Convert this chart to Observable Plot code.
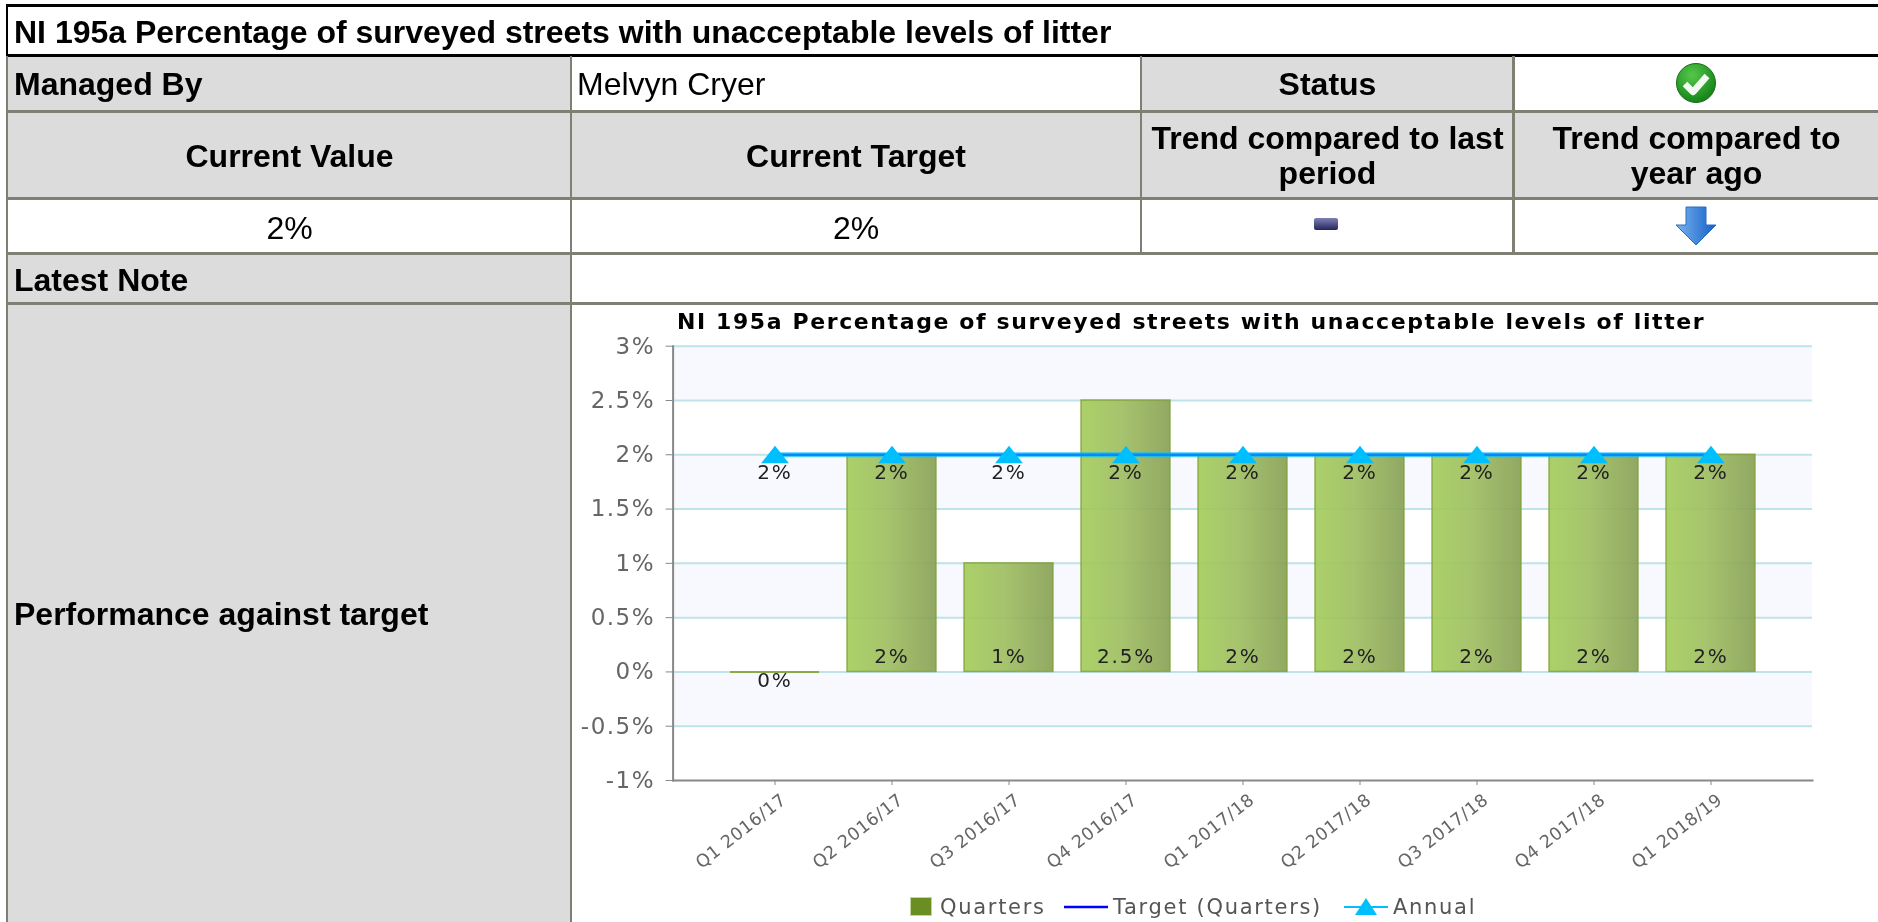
<!DOCTYPE html>
<html><head><meta charset="utf-8">
<script src="https://cdn.jsdelivr.net/npm/d3@7"></script>
<script src="https://cdn.jsdelivr.net/npm/@observablehq/plot@0.6"></script>
<style>
html,body{margin:0;padding:0;width:1878px;height:922px;overflow:hidden;background:#fff;font-family:"Liberation Sans",Arial,sans-serif;color:#000}
#page{position:absolute;inset:0;filter:blur(0.45px)}
.c{position:absolute;box-sizing:border-box;font-size:32px;display:flex;align-items:center;line-height:35px;padding-top:2px}
.g{background:#dcdcdc;font-weight:bold}
.ctr{justify-content:center;text-align:center}
.l{padding-left:6px}
.h{position:absolute;background:#7f7f73}
.k{position:absolute;background:#000}
#chart{position:absolute;left:572px;top:305px}
.ct{position:absolute;left:572px;top:309px;width:1240px;font:bold 22px "DejaVu Sans",sans-serif;letter-spacing:1.6px;white-space:nowrap}
.lg{position:absolute;font:21px "DejaVu Sans",sans-serif;letter-spacing:1.7px;color:#555;top:896px;white-space:nowrap;line-height:22px}
svg.ic{position:absolute}
g[aria-label="y-axis tick label"] text{letter-spacing:1.5px}
g[aria-label="x-axis tick label"] text{letter-spacing:0.6px}
.lbl text{letter-spacing:1.8px}
</style></head><body><div id="page">
<div class="c g l" style="left:8px;top:56px;width:563px;height:55px">Managed By</div>
<div class="c" style="left:572px;top:56px;width:568px;height:55px;padding-left:5px">Melvyn Cryer</div>
<div class="c g ctr" style="left:1142px;top:56px;width:371px;height:55px">Status</div>
<div class="c g ctr" style="left:8px;top:112px;width:563px;height:86px">Current Value</div>
<div class="c g ctr" style="left:572px;top:112px;width:568px;height:86px">Current Target</div>
<div class="c g ctr" style="left:1142px;top:112px;width:371px;height:86px">Trend compared to last period</div>
<div class="c g ctr" style="left:1515px;top:112px;width:363px;height:86px"><span style="width:340px">Trend compared to year ago</span></div>
<div class="c ctr" style="left:8px;top:201px;width:563px;height:52px">2%</div>
<div class="c ctr" style="left:572px;top:201px;width:568px;height:52px">2%</div>
<div class="c g l" style="left:8px;top:255px;width:563px;height:48px">Latest Note</div>
<div class="c g l" style="left:8px;top:305px;width:563px;height:617px">Performance against target</div>
<div class="c l" style="left:8px;top:8px;width:1870px;height:47px;font-weight:bold">NI 195a Percentage of surveyed streets with unacceptable levels of litter</div>

<div class="k" style="left:6px;top:4px;width:1872px;height:3px"></div>
<div class="k" style="left:6px;top:54px;width:1872px;height:3px"></div>
<div class="k" style="left:6px;top:4px;width:2px;height:52px"></div>
<div class="h" style="left:6px;top:56px;width:2px;height:866px"></div>
<div class="h" style="left:6px;top:110px;width:1872px;height:3px"></div>
<div class="h" style="left:6px;top:197px;width:1872px;height:3px"></div>
<div class="h" style="left:6px;top:252px;width:1872px;height:3px"></div>
<div class="h" style="left:6px;top:302px;width:1872px;height:3px"></div>
<div class="h" style="left:570px;top:56px;width:2px;height:866px"></div>
<div class="h" style="left:1140px;top:56px;width:2px;height:197px"></div>
<div class="h" style="left:1512px;top:56px;width:3px;height:197px"></div>

<svg class="ic" style="left:1675px;top:62px" width="42" height="42" viewBox="0 0 42 42">
<defs><radialGradient id="gc" cx=".4" cy=".3" r=".8"><stop offset="0" stop-color="#55c84a"/><stop offset="1" stop-color="#0c7a12"/></radialGradient></defs>
<circle cx="21" cy="21" r="19.5" fill="url(#gc)" stroke="#1a6b1a" stroke-width="1"/>
<path d="M10 22l8 8 14-16" fill="none" stroke="#f4f8f2" stroke-width="6.5" stroke-linejoin="round"/></svg>
<svg class="ic" style="left:1314px;top:218px" width="24" height="12"><defs><linearGradient id="gd" x1="0" x2="0" y1="0" y2="1"><stop offset="0" stop-color="#8080b8"/><stop offset="1" stop-color="#26265e"/></linearGradient></defs><rect width="24" height="12" rx="2" fill="url(#gd)"/></svg>
<svg class="ic" style="left:1675px;top:206px" width="42" height="40" viewBox="0 0 42 40"><defs><linearGradient id="ga" x1="0" x2="1"><stop offset="0" stop-color="#78b4f0"/><stop offset="1" stop-color="#1560c8"/></linearGradient></defs><path d="M11 1h20v18h10L21 39 1 19h10z" fill="url(#ga)" stroke="#2a6cc0" stroke-width="1"/></svg>

<div class="ct" id="ct"><span style="position:absolute;left:105px">NI 195a Percentage of surveyed streets with unacceptable levels of litter</span></div>
<div id="chart"></div>

<svg class="ic" style="left:910px;top:897px" width="22" height="19"><rect x=".5" y=".5" width="21" height="18" fill="#6b8e23" stroke="#c2d69a"/></svg>
<div class="lg" style="left:940px">Quarters</div>
<svg class="ic" style="left:1064px;top:905px" width="44" height="4"><line x1="0" x2="44" y1="2" y2="2" stroke="#0000ff" stroke-width="2.5"/></svg>
<div class="lg" style="left:1113px">Target (Quarters)</div>
<svg class="ic" style="left:1344px;top:897px" width="44" height="20"><line x1="0" x2="44" y1="10" y2="10" stroke="#00bfff" stroke-width="2"/><path d="M22 1L33 18H11z" fill="#00bfff"/></svg>
<div class="lg" style="left:1393px">Annual</div>
</div>
<script>
const periods = ["Q1 2016/17","Q2 2016/17","Q3 2016/17","Q4 2016/17","Q1 2017/18","Q2 2017/18","Q3 2017/18","Q4 2017/18","Q1 2018/19"];
const quarters = [0,2,1,2.5,2,2,2,2,2];
const target = [2,2,2,2,2,2,2,2,2];
const annual = [2,2,2,2,2,2,2,2,2];
const yTicks = [-1,-0.5,0,0.5,1,1.5,2,2.5,3];
const gridTicks = [-0.5,0,0.5,1,1.5,2,2.5,3];
const bandLow = [2.5,1.5,0.5,-0.5];
const bandHigh = [3,2,1,0];

const rows = periods.map((p,i)=>({p,q:quarters[i],t:target[i],a:annual[i]}));
const bands = bandLow.map((v,i)=>({lo:v,hi:bandHigh[i]}));
const flatTriangle = {draw(ctx,size){const u=Math.sqrt(size);ctx.moveTo(0,-u*0.9);ctx.lineTo(u*1.4,u*0.85);ctx.lineTo(-u*1.4,u*0.85);ctx.closePath();}};
const defs = () => {
  const s = d3.create("svg:defs");
  const g = s.append("linearGradient").attr("id","barGrad").attr("x1",0).attr("x2",1).attr("y1",0).attr("y2",0);
  g.append("stop").attr("offset","0").attr("stop-color","#a3cc58");
  g.append("stop").attr("offset","0.45").attr("stop-color","#9dbd5e");
  g.append("stop").attr("offset","1").attr("stop-color","#869f52");
  return s.node();
};
const font = "DejaVu Sans";
const plot = Plot.plot({
  width:1306, height:617,
  marginLeft:100.6, marginRight:66, marginTop:40.7, marginBottom:142,
  style:{background:"transparent",fontFamily:font,overflow:"visible"},
  x:{domain:periods,type:"band",range:[144,1198],paddingInner:0.237,paddingOuter:0.1185,label:null},
  y:{domain:[-1,3],label:null},
  marks:[
    defs,
    Plot.rect(bands,{y1:"lo",y2:"hi",fill:"#f7f9fe"}),
    Plot.ruleY(gridTicks,{stroke:"#bfe3ea",strokeWidth:2}),
    Plot.barY(rows,{x:"p",y:"q",fill:"url(#barGrad)",fillOpacity:0.9,stroke:"#7fa038",strokeWidth:1.5,strokeOpacity:0.8}),
    Plot.tickY(rows,{filter:d=>d.q===0,x:"p",y:"q",stroke:"#8aaa45",strokeWidth:2}),
    Plot.frame({anchor:"left",stroke:"#888",strokeWidth:2}),
    Plot.frame({anchor:"bottom",stroke:"#888",strokeWidth:2}),
    Plot.axisY({ticks:yTicks,tickFormat:d=>d+"%",tickSize:7,tickPadding:11,fontSize:23,stroke:"#888",color:"#666",anchor:"left"}),
    Plot.axisX({text:null,tickSize:5,stroke:"#888",anchor:"bottom"}),
    Plot.axisX({tickRotate:-38,tickSize:0,tickPadding:9,fontSize:17.5,color:"#666",anchor:"bottom",dx:9,dy:8}),
    Plot.line(rows,{x:"p",y:"t",stroke:"#1010f0",strokeWidth:2.5}),
    Plot.line(rows,{x:"p",y:"a",stroke:"#00bfff",strokeWidth:5,strokeOpacity:0.7}),
    Plot.dot(rows,{x:"p",y:"a",symbol:flatTriangle,r:5.6,fill:"#00bfff",stroke:"none"}),
    Plot.text(rows,{x:"p",y:"a",text:d=>d.a+"%",dy:18,fontSize:20,fill:"#222",className:"lbl"}),
    Plot.text(rows,{filter:d=>d.q>0,x:"p",y:()=>0,text:d=>d.q+"%",dy:-15,fontSize:20,fill:"#222",className:"lbl"}),
    Plot.text(rows,{filter:d=>d.q===0,x:"p",y:()=>0,text:d=>d.q+"%",dy:9,fontSize:20,fill:"#222",className:"lbl"})
  ]
});
document.getElementById("chart").append(plot);
</script>
</body></html>
